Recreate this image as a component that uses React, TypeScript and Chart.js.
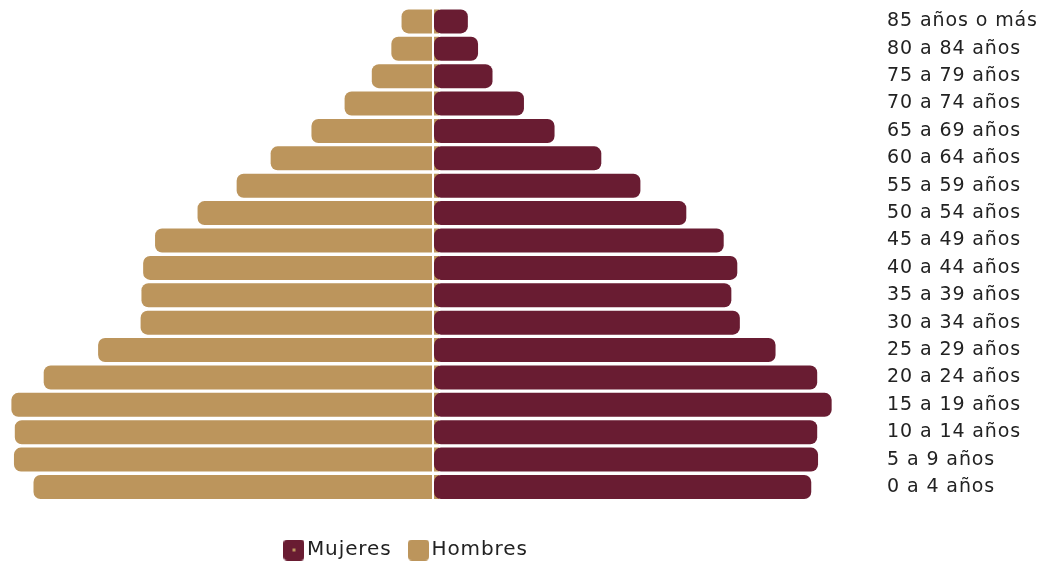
import React, { useEffect, useRef } from "react";
import { Chart, registerables } from "chart.js";

Chart.register(...registerables);

const ageGroups: string[] = [
  "85 años o más",
  "80 a 84 años",
  "75 a 79 años",
  "70 a 74 años",
  "65 a 69 años",
  "60 a 64 años",
  "55 a 59 años",
  "50 a 54 años",
  "45 a 49 años",
  "40 a 44 años",
  "35 a 39 años",
  "30 a 34 años",
  "25 a 29 años",
  "20 a 24 años",
  "15 a 19 años",
  "10 a 14 años",
  "5 a 9 años",
  "0 a 4 años",
];

// Porcentaje de la población
const mujeres: number[] = [
  0.41, 0.53, 0.7, 1.07, 1.43, 1.98, 2.44, 2.98, 3.42, 3.58, 3.51, 3.61, 4.03,
  4.52, 4.69, 4.52, 4.53, 4.45,
];
const hombres: number[] = [
  0.37, 0.49, 0.72, 1.04, 1.43, 1.91, 2.31, 2.77, 3.27, 3.41, 3.43, 3.44, 3.94,
  4.58, 4.96, 4.92, 4.93, 4.7,
];

const axisMax = 5;

const GUINDA = "#691C32";
const DORADO = "#BC955C";
const FONT = "DejaVu Sans";
const LETTER_SPACING = "0.9px";

function makeBox(fill: string, dot?: string): HTMLCanvasElement {
  const c = document.createElement("canvas");
  c.width = 21;
  c.height = 21;
  const g = c.getContext("2d")!;
  g.fillStyle = fill;
  g.beginPath();
  (g as any).roundRect(0, 0, 21, 21, 4);
  g.fill();
  if (dot) {
    g.fillStyle = dot;
    g.fillRect(9, 9, 3, 3);
  }
  return c;
}

function makeEmpty(): HTMLCanvasElement {
  const c = document.createElement("canvas");
  c.width = 1;
  c.height = 1;
  return c;
}

const spacingPlugin = {
  id: "letterSpacing",
  beforeLayout(chart: any) {
    chart.ctx.letterSpacing = LETTER_SPACING;
  },
  beforeDraw(chart: any) {
    chart.ctx.letterSpacing = LETTER_SPACING;
  },
};

export default function App() {
  const ref = useRef<HTMLCanvasElement | null>(null);

  useEffect(() => {
    document.body.style.margin = "0";
    const canvas = ref.current;
    if (!canvas) return;
    const boxM = makeBox(GUINDA, DORADO);
    const boxH = makeBox(DORADO);
    const empty = makeEmpty();

    const chart = new Chart(canvas, {
      type: "bar",
      data: {
        labels: ageGroups,
        datasets: [
          {
            label: "Mujeres",
            data: mujeres,
            backgroundColor: GUINDA,
            borderRadius: 7,
            borderSkipped: false,
            grouped: false,
            barPercentage: 0.876,
            categoryPercentage: 1,
          } as any,
          {
            label: "Hombres",
            data: hombres.map((v) => -v),
            backgroundColor: DORADO,
            borderRadius: 7,
            borderSkipped: "start",
            base: 0.07,
            grouped: false,
            barPercentage: 0.876,
            categoryPercentage: 1,
          } as any,
        ],
      },
      plugins: [spacingPlugin],
      options: {
        indexAxis: "y",
        animation: false,
        responsive: true,
        maintainAspectRatio: false,
        layout: { padding: { top: 7.7, left: 8, right: 0, bottom: -7 } },
        scales: {
          x: {
            type: "linear",
            min: -axisMax,
            max: axisMax,
            ticks: { display: false, stepSize: 1 },
            border: { display: false },
            grid: {
              drawTicks: false,
              z: 1,
              lineWidth: 2,
              color: (ctx: any) =>
                ctx.tick && ctx.tick.value === 0 ? "#ffffff" : "rgba(0,0,0,0)",
            },
            afterFit: (axis: any) => {
              axis.height = 15.3;
              axis.paddingLeft = 0;
              axis.paddingRight = 0;
            },
          } as any,
          y: {
            type: "category",
            position: "right",
            grid: { display: false, drawTicks: false },
            border: { display: false },
            ticks: {
              padding: 29,
              autoSkip: false,
              color: "#222222",
              font: { family: FONT, size: 19 },
            },
            afterFit: (axis: any) => {
              axis.width = 194;
              axis.paddingTop = 0;
              axis.paddingBottom = 0;
            },
          } as any,
        },
        plugins: {
          tooltip: { enabled: false },
          legend: {
            position: "bottom",
            fullSize: false,
            labels: {
              usePointStyle: true,
              boxWidth: 6,
              padding: 24,
              color: "#222222",
              font: { family: FONT, size: 20 },
              generateLabels: () => [
                {
                  text: "Mujeres",
                  fillStyle: GUINDA,
                  strokeStyle: GUINDA,
                  lineWidth: 0,
                  pointStyle: boxM,
                  hidden: false,
                  datasetIndex: 0,
                  fontColor: "#222222",
                },
                {
                  text: "Hombres",
                  fillStyle: DORADO,
                  strokeStyle: DORADO,
                  lineWidth: 0,
                  pointStyle: boxH,
                  hidden: false,
                  datasetIndex: 1,
                  fontColor: "#222222",
                },
                {
                  text: " ",
                  fillStyle: "rgba(0,0,0,0)",
                  strokeStyle: "rgba(0,0,0,0)",
                  lineWidth: 0,
                  pointStyle: empty,
                  hidden: false,
                  datasetIndex: 2,
                  fontColor: "rgba(0,0,0,0)",
                },
              ],
            },
            onClick: () => {},
          },
        },
      } as any,
    });

    return () => {
      chart.destroy();
    };
  }, []);

  return (
    <div style={{ position: "relative", width: "1052px", height: "563px" }}>
      <canvas ref={ref} />
    </div>
  );
}
